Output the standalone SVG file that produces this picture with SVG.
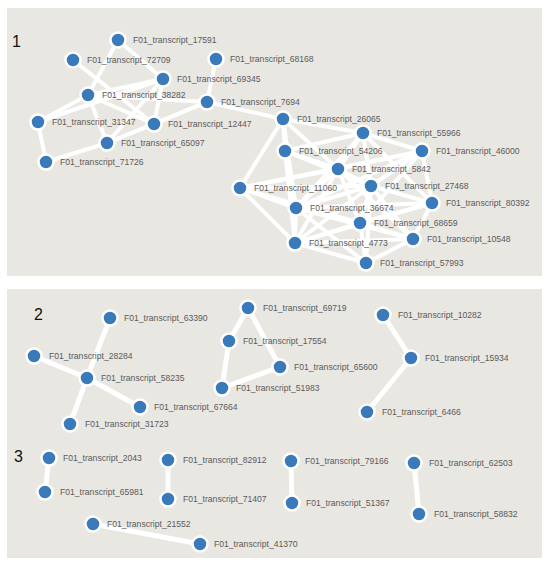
<svg xmlns="http://www.w3.org/2000/svg" width="550" height="568" viewBox="0 0 550 568">
<style>
.panel{fill:#e9e7e2}
.e line{stroke:#ffffff;stroke-width:4;stroke-linecap:round}
.e .b{stroke-width:5}
.n circle{fill:#3a7abb;stroke:#ffffff;stroke-width:2.5}
.n text{font-family:"Liberation Sans",Arial,sans-serif;font-size:8.6px;fill:#5a5a5a}
.num{font-family:"Liberation Sans",Arial,sans-serif;font-size:16px;fill:#111111}
</style>
<rect width="550" height="568" fill="#ffffff"/>
<rect class="panel" x="7" y="8" width="535" height="268"/>
<rect class="panel" x="7" y="289" width="535" height="269"/>
<text class="num" x="12" y="47">1</text>
<text class="num" x="34" y="320">2</text>
<text class="num" x="14" y="462">3</text>
<g id="connectors" class="e">
<line x1="118" y1="40" x2="163" y2="79"/>
<line x1="118" y1="40" x2="88" y2="95"/>
<line x1="73" y1="60" x2="154" y2="124"/>
<line x1="216" y1="59" x2="207" y2="102"/>
<line x1="163" y1="79" x2="88" y2="95"/>
<line x1="163" y1="79" x2="38" y2="122"/>
<line x1="163" y1="79" x2="154" y2="124"/>
<line x1="163" y1="79" x2="107" y2="143"/>
<line x1="88" y1="95" x2="207" y2="102"/>
<line x1="88" y1="95" x2="154" y2="124"/>
<line x1="88" y1="95" x2="38" y2="122"/>
<line x1="88" y1="95" x2="107" y2="143"/>
<line x1="207" y1="102" x2="154" y2="124"/>
<line x1="207" y1="102" x2="107" y2="143"/>
<line x1="207" y1="102" x2="283" y2="119"/>
<line x1="38" y1="122" x2="46" y2="162"/>
<line x1="107" y1="143" x2="46" y2="162"/>
<line x1="154" y1="124" x2="107" y2="143"/>
<line x1="283" y1="119" x2="363" y2="133"/>
<line x1="283" y1="119" x2="285" y2="151"/>
<line x1="283" y1="119" x2="240" y2="188"/>
<line x1="283" y1="119" x2="338" y2="169"/>
<line x1="283" y1="119" x2="296" y2="208"/>
<line x1="363" y1="133" x2="422" y2="151"/>
<line x1="363" y1="133" x2="285" y2="151"/>
<line x1="363" y1="133" x2="338" y2="169"/>
<line x1="363" y1="133" x2="371" y2="186"/>
<line x1="363" y1="133" x2="432" y2="203"/>
<line x1="363" y1="133" x2="296" y2="208"/>
<line x1="285" y1="151" x2="338" y2="169"/>
<line x1="285" y1="151" x2="296" y2="208"/>
<line x1="285" y1="151" x2="295" y2="243"/>
<line x1="285" y1="151" x2="371" y2="186"/>
<line x1="422" y1="151" x2="338" y2="169"/>
<line x1="422" y1="151" x2="371" y2="186"/>
<line x1="422" y1="151" x2="432" y2="203"/>
<line x1="422" y1="151" x2="360" y2="223"/>
<line x1="422" y1="151" x2="296" y2="208"/>
<line x1="422" y1="151" x2="240" y2="188"/>
<line x1="338" y1="169" x2="240" y2="188"/>
<line x1="338" y1="169" x2="371" y2="186"/>
<line x1="338" y1="169" x2="296" y2="208"/>
<line x1="338" y1="169" x2="360" y2="223"/>
<line x1="338" y1="169" x2="295" y2="243"/>
<line x1="338" y1="169" x2="413" y2="239"/>
<line x1="240" y1="188" x2="371" y2="186"/>
<line x1="240" y1="188" x2="296" y2="208"/>
<line x1="240" y1="188" x2="295" y2="243"/>
<line x1="240" y1="188" x2="360" y2="223"/>
<line x1="371" y1="186" x2="432" y2="203"/>
<line x1="371" y1="186" x2="360" y2="223"/>
<line x1="371" y1="186" x2="413" y2="239"/>
<line x1="371" y1="186" x2="296" y2="208"/>
<line x1="371" y1="186" x2="295" y2="243"/>
<line x1="371" y1="186" x2="366" y2="263"/>
<line x1="432" y1="203" x2="360" y2="223"/>
<line x1="432" y1="203" x2="296" y2="208"/>
<line x1="432" y1="203" x2="295" y2="243"/>
<line x1="432" y1="203" x2="413" y2="239"/>
<line x1="296" y1="208" x2="360" y2="223"/>
<line x1="296" y1="208" x2="295" y2="243"/>
<line x1="296" y1="208" x2="366" y2="263"/>
<line x1="296" y1="208" x2="413" y2="239"/>
<line x1="360" y1="223" x2="413" y2="239"/>
<line x1="360" y1="223" x2="295" y2="243"/>
<line x1="360" y1="223" x2="366" y2="263"/>
<line x1="413" y1="239" x2="295" y2="243"/>
<line x1="413" y1="239" x2="366" y2="263"/>
<line x1="295" y1="243" x2="366" y2="263"/>
<line class="b" x1="110" y1="318" x2="87" y2="378"/>
<line class="b" x1="34" y1="356" x2="87" y2="378"/>
<line class="b" x1="87" y1="378" x2="140" y2="407"/>
<line class="b" x1="87" y1="378" x2="70" y2="424"/>
<line class="b" x1="248" y1="308" x2="229" y2="341"/>
<line class="b" x1="248" y1="308" x2="280" y2="367"/>
<line class="b" x1="229" y1="341" x2="222" y2="388"/>
<line class="b" x1="222" y1="388" x2="280" y2="367"/>
<line class="b" x1="383" y1="315" x2="411" y2="358"/>
<line class="b" x1="411" y1="358" x2="367" y2="412"/>
<line class="b" x1="49" y1="458" x2="45" y2="492"/>
<line class="b" x1="168" y1="460" x2="168" y2="499"/>
<line class="b" x1="291" y1="461" x2="292" y2="503"/>
<line class="b" x1="414" y1="463" x2="419" y2="514"/>
<line class="b" x1="93" y1="524" x2="200" y2="544"/>
</g>
<g id="n17591" class="n"><circle cx="118" cy="40" r="7.5"/><text x="133" y="43">F01_transcript_17591</text></g>
<g id="n72709" class="n"><circle cx="73" cy="60" r="7.5"/><text x="87" y="63">F01_transcript_72709</text></g>
<g id="n68168" class="n"><circle cx="216" cy="59" r="7.5"/><text x="230" y="62">F01_transcript_68168</text></g>
<g id="n69345" class="n"><circle cx="163" cy="79" r="7.5"/><text x="177" y="82">F01_transcript_69345</text></g>
<g id="n38282" class="n"><circle cx="88" cy="95" r="7.5"/><text x="102" y="98">F01_transcript_38282</text></g>
<g id="n7694" class="n"><circle cx="207" cy="102" r="7.5"/><text x="221" y="105">F01_transcript_7694</text></g>
<g id="n31347" class="n"><circle cx="38" cy="122" r="7.5"/><text x="52" y="125">F01_transcript_31347</text></g>
<g id="n12447" class="n"><circle cx="154" cy="124" r="7.5"/><text x="168" y="127">F01_transcript_12447</text></g>
<g id="n65097" class="n"><circle cx="107" cy="143" r="7.5"/><text x="121" y="146">F01_transcript_65097</text></g>
<g id="n71726" class="n"><circle cx="46" cy="162" r="7.5"/><text x="60" y="165">F01_transcript_71726</text></g>
<g id="n26065" class="n"><circle cx="283" cy="119" r="7.5"/><text x="297" y="122">F01_transcript_26065</text></g>
<g id="n55966" class="n"><circle cx="363" cy="133" r="7.5"/><text x="377" y="136">F01_transcript_55966</text></g>
<g id="n54206" class="n"><circle cx="285" cy="151" r="7.5"/><text x="299" y="154">F01_transcript_54206</text></g>
<g id="n46000" class="n"><circle cx="422" cy="151" r="7.5"/><text x="436" y="154">F01_transcript_46000</text></g>
<g id="n5842" class="n"><circle cx="338" cy="169" r="7.5"/><text x="352" y="172">F01_transcript_5842</text></g>
<g id="n11060" class="n"><circle cx="240" cy="188" r="7.5"/><text x="254" y="191">F01_transcript_11060</text></g>
<g id="n27468" class="n"><circle cx="371" cy="186" r="7.5"/><text x="385" y="189">F01_transcript_27468</text></g>
<g id="n80392" class="n"><circle cx="432" cy="203" r="7.5"/><text x="446" y="206">F01_transcript_80392</text></g>
<g id="n36674" class="n"><circle cx="296" cy="208" r="7.5"/><text x="310" y="211">F01_transcript_36674</text></g>
<g id="n68659" class="n"><circle cx="360" cy="223" r="7.5"/><text x="374" y="226">F01_transcript_68659</text></g>
<g id="n10548" class="n"><circle cx="413" cy="239" r="7.5"/><text x="427" y="242">F01_transcript_10548</text></g>
<g id="n4773" class="n"><circle cx="295" cy="243" r="7.5"/><text x="309" y="246">F01_transcript_4773</text></g>
<g id="n57993" class="n"><circle cx="366" cy="263" r="7.5"/><text x="380" y="266">F01_transcript_57993</text></g>
<g id="n63390" class="n"><circle cx="110" cy="318" r="7.5"/><text x="124" y="321">F01_transcript_63390</text></g>
<g id="n28284" class="n"><circle cx="34" cy="356" r="7.5"/><text x="49" y="359">F01_transcript_28284</text></g>
<g id="n58235" class="n"><circle cx="87" cy="378" r="7.5"/><text x="101" y="381">F01_transcript_58235</text></g>
<g id="n67664" class="n"><circle cx="140" cy="407" r="7.5"/><text x="154" y="410">F01_transcript_67664</text></g>
<g id="n31723" class="n"><circle cx="70" cy="424" r="7.5"/><text x="85" y="427">F01_transcript_31723</text></g>
<g id="n69719" class="n"><circle cx="248" cy="308" r="7.5"/><text x="263" y="311">F01_transcript_69719</text></g>
<g id="n17554" class="n"><circle cx="229" cy="341" r="7.5"/><text x="243" y="344">F01_transcript_17554</text></g>
<g id="n65600" class="n"><circle cx="280" cy="367" r="7.5"/><text x="294" y="370">F01_transcript_65600</text></g>
<g id="n51983" class="n"><circle cx="222" cy="388" r="7.5"/><text x="236" y="391">F01_transcript_51983</text></g>
<g id="n10282" class="n"><circle cx="383" cy="315" r="7.5"/><text x="398" y="318">F01_transcript_10282</text></g>
<g id="n15934" class="n"><circle cx="411" cy="358" r="7.5"/><text x="425" y="361">F01_transcript_15934</text></g>
<g id="n6466" class="n"><circle cx="367" cy="412" r="7.5"/><text x="382" y="415">F01_transcript_6466</text></g>
<g id="n2043" class="n"><circle cx="49" cy="458" r="7.5"/><text x="63" y="461">F01_transcript_2043</text></g>
<g id="n65981" class="n"><circle cx="45" cy="492" r="7.5"/><text x="60" y="495">F01_transcript_65981</text></g>
<g id="n82912" class="n"><circle cx="168" cy="460" r="7.5"/><text x="183" y="463">F01_transcript_82912</text></g>
<g id="n71407" class="n"><circle cx="168" cy="499" r="7.5"/><text x="183" y="502">F01_transcript_71407</text></g>
<g id="n21552" class="n"><circle cx="93" cy="524" r="7.5"/><text x="107" y="527">F01_transcript_21552</text></g>
<g id="n41370" class="n"><circle cx="200" cy="544" r="7.5"/><text x="214" y="547">F01_transcript_41370</text></g>
<g id="n79166" class="n"><circle cx="291" cy="461" r="7.5"/><text x="305" y="464">F01_transcript_79166</text></g>
<g id="n51367" class="n"><circle cx="292" cy="503" r="7.5"/><text x="306" y="506">F01_transcript_51367</text></g>
<g id="n62503" class="n"><circle cx="414" cy="463" r="7.5"/><text x="429" y="466">F01_transcript_62503</text></g>
<g id="n58832" class="n"><circle cx="419" cy="514" r="7.5"/><text x="434" y="517">F01_transcript_58832</text></g>
</svg>
